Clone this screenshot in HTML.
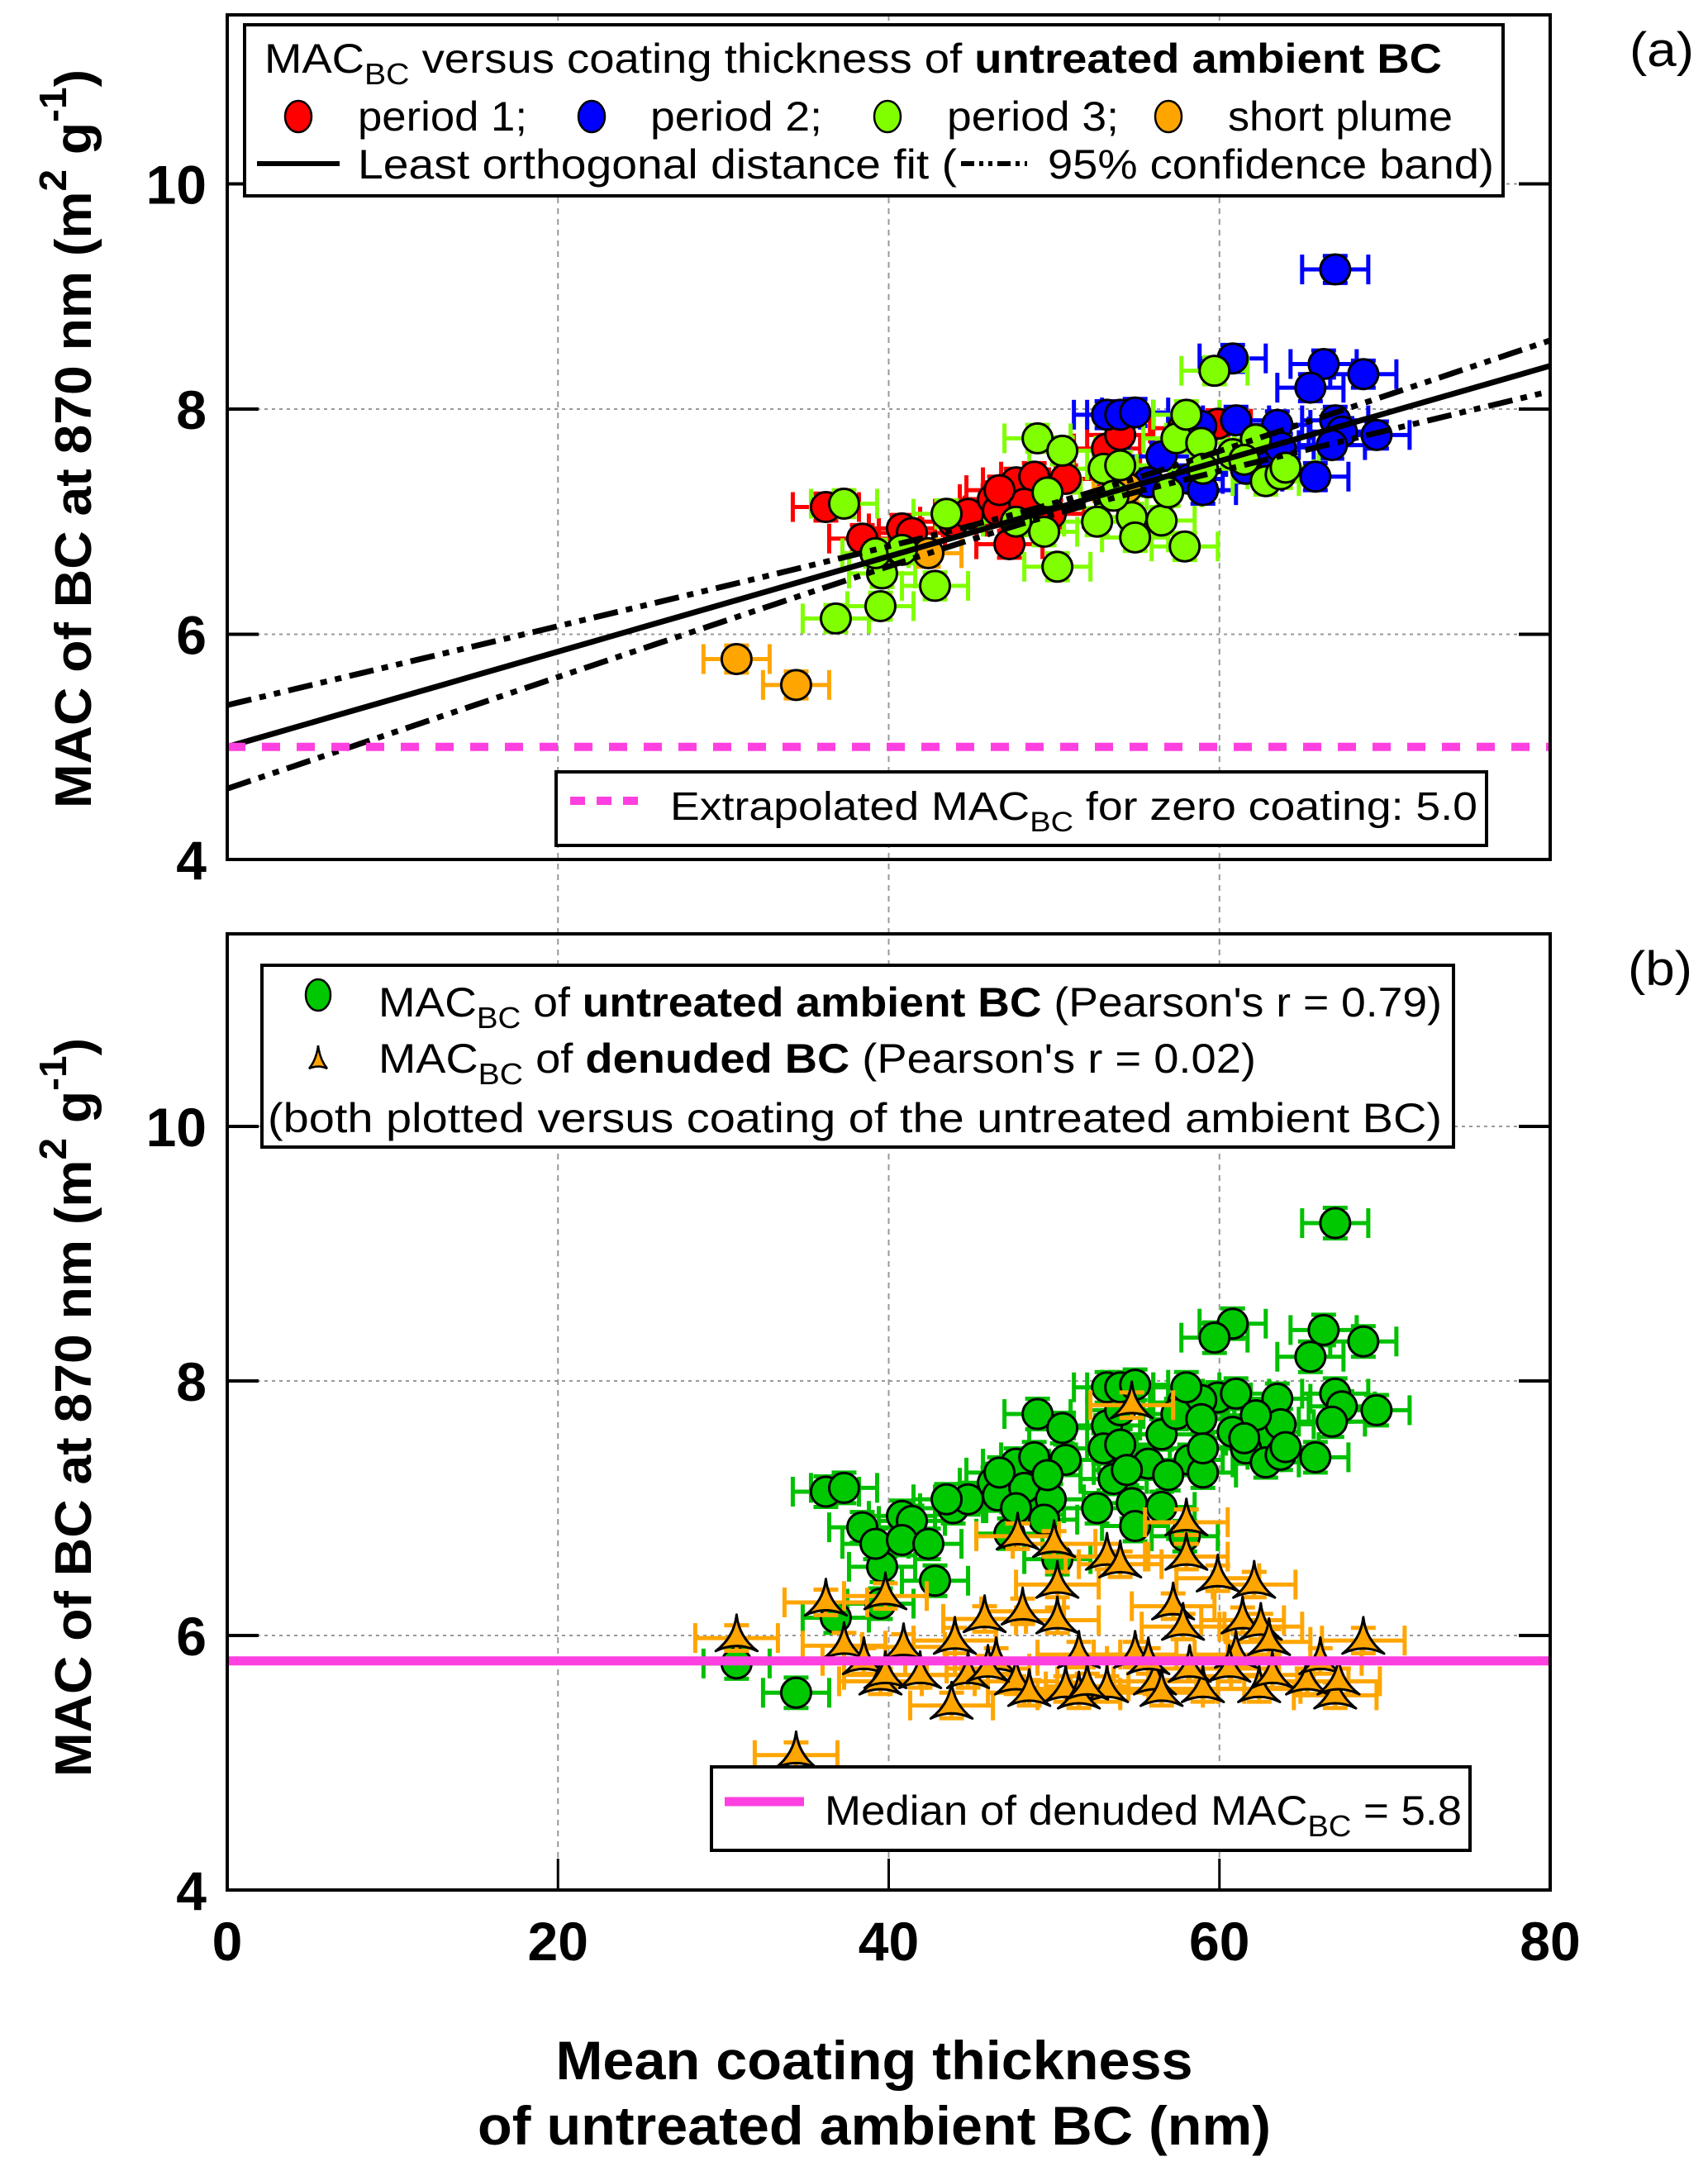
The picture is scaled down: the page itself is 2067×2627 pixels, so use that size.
<!DOCTYPE html>
<html><head><meta charset="utf-8"><style>
html,body{margin:0;padding:0;background:#fff;}
svg{display:block;}
text{font-family:"Liberation Sans",sans-serif;}
</style></head><body>
<svg id="chart" width="2067" height="2627" viewBox="0 0 2067 2627" xmlns="http://www.w3.org/2000/svg">
<g id="grid"></g>
<g id="marks"></g>
<g id="axes"></g>
<g id="legends"></g>
</svg>
<script>
// ---- data (coating thickness nm, MAC m2/g) ----
const xTicks = [0, 20, 40, 60, 80];
const yTicks = [4, 6, 8, 10];
const p1X = [36.2,38.4,40.8,41.4,43.9,44.8,46.3,46.6,47.3,47.7,48.8,48.2,50.7,53.2,54.0,57.8,59.9,46.7,49.8];
const p1Y = [7.13,6.85,6.94,6.90,7.00,7.07,7.20,7.10,6.80,7.35,7.40,7.16,7.38,7.65,7.77,7.83,7.87,7.28,7.07];
const p2X = [67.0,60.8,66.3,68.7,65.5,53.2,54.0,54.9,58.9,61.0,63.5,67.0,67.4,69.5,66.8,65.8,56.5,58.2,62.4,63.7,55.7,59.0,61.6];
const p2Y = [9.24,8.45,8.40,8.31,8.19,7.95,7.95,7.97,7.85,7.90,7.86,7.90,7.80,7.77,7.68,7.40,7.58,7.38,7.53,7.66,7.35,7.28,7.47];
const p3X = [37.3,36.8,39.5,39.6,39.2,40.8,42.8,43.5,49.0,50.5,50.2,49.4,49.6,47.7,52.6,53.0,54.0,54.7,54.9,56.5,57.9,57.4,58.0,59.7,58.9,59.0,60.8,62.2,61.5,62.8,63.7,64.0,56.9,53.6];
const p3Y = [7.16,6.14,6.25,6.54,6.72,6.75,6.43,7.07,7.74,7.63,6.60,6.91,7.26,7.00,7.00,7.47,7.50,7.04,6.86,7.01,6.78,7.74,7.95,8.34,7.70,7.47,7.60,7.73,7.55,7.36,7.42,7.48,7.26,7.23];
const plumeX = [30.8,34.4,42.4,54.4];
const plumeY = [5.78,5.55,6.72,7.30];
const denX = [30.8,34.4,36.2,37.3,39.8,38.5,39.5,40.9,41.9,43.8,44.8,45.8,46.5,47.7,48.1,47.8,50.0,50.2,50.7,51.5,50.2,53.2,54.0,54.7,53.2,54.9,56.1,57.2,57.8,58.0,58.0,59.9,59.0,58.2,61.0,61.4,62.1,62.5,62.4,63.2,65.3,66.1,67.0,67.2,68.7,60.6,44.0,46.0,51.5,55.7,39.8,48.5,52.0,56.5,63.0];
const denY = [5.98,5.06,6.26,5.92,6.31,5.80,5.64,5.91,5.69,5.45,5.69,6.13,5.80,5.64,6.19,6.78,6.72,6.40,5.58,5.85,6.12,6.62,6.56,7.81,5.58,5.85,5.64,6.23,6.07,6.89,6.62,6.45,5.58,5.74,5.85,6.12,6.40,6.07,5.58,5.69,5.64,5.80,5.53,5.64,5.96,5.74,5.96,5.74,5.53,5.80,5.69,5.55,5.60,5.55,5.95];
const fitIntercept = 5.0, fitSlope = 0.0423;
const denMedian = 5.8;
const xErr = 2.0, yErr = 0.12, denXErr = 2.5;

// ---- layout ----
const X0 = 275, X1 = 1876;
const panelA = {top: 18, bottom: 1040, yMin: 4, yMax: 11.5};
const panelB = {top: 1130, bottom: 2287, yMin: 4, yMax: 11.5};
const NS = "http://www.w3.org/2000/svg";
function sx(v){ return X0 + (v - 0) / 80 * (X1 - X0); }
function syA(v){ return 1040 - (v - 4) / 2 * 272.5; }
function syB(v){ return 2287 - (v - 4) / 2 * 308; }
function mk(tag, attrs, parent){
  const e = document.createElementNS(NS, tag);
  for (const k in attrs) e.setAttribute(k, attrs[k]);
  parent.appendChild(e); return e;
}
const grid = document.getElementById('grid');
const marks = document.getElementById('marks');
const axes = document.getElementById('axes');
const legends = document.getElementById('legends');

// grid
[20,40,60].forEach(v => {
  const l = mk('line',{x1:sx(v),x2:sx(v),y1:18,y2:2287,stroke:'#999','stroke-width':2,'stroke-dasharray':'7,6'},grid);
  
  
});
[6,8,10].forEach(v => {
  const la = mk('line',{x1:X0,x2:X1,y1:syA(v),y2:syA(v),stroke:'#999','stroke-width':2,'stroke-dasharray':'4,5'},grid);
  
  
  const lb = mk('line',{x1:X0,x2:X1,y1:syB(v),y2:syB(v),stroke:'#999','stroke-width':2,'stroke-dasharray':'4,5'},grid);
  
  
});

function errBars(x, y, ex, ey, sy, color, parent){
  const g = mk('g',{stroke:color,'stroke-width':5,fill:'none'},parent);
  
  
  const xa = sx(x-ex), xb = sx(x+ex), yc = sy(y);
  mk('line',{x1:xa,x2:xb,y1:yc,y2:yc},g);
  mk('line',{x1:xa,x2:xa,y1:yc-18,y2:yc+18},g);
  mk('line',{x1:xb,x2:xb,y1:yc-18,y2:yc+18},g);
  if (ey > 0){
    const ya = sy(y-ey), yb = sy(y+ey), xc = sx(x);
    mk('line',{x1:xc,x2:xc,y1:ya,y2:yb},g);
    mk('line',{x1:xc-15,x2:xc+15,y1:ya,y2:ya},g);
    mk('line',{x1:xc-15,x2:xc+15,y1:yb,y2:yb},g);
  }
}
function circle(x, y, sy, color, parent){
  const c = mk('circle',{cx:sx(x),cy:sy(y),r:18,fill:color,stroke:'#000','stroke-width':3},parent);
  return c;
}
function star(cx, cy, s, parent){
  const a=[cx,cy-27*s], b=[cx-24*s,cy+15*s], c=[cx+24*s,cy+15*s];
  const k=0.22;
  const m=(p,q)=>[cx+((p[0]+q[0])/2-cx)*k, cy+((p[1]+q[1])/2-cy)*k];
  const mab=m(a,b), mbc=m(b,c), mca=m(c,a);
  const d=`M${a[0]},${a[1]} Q${mab[0]},${mab[1]} ${b[0]},${b[1]} Q${mbc[0]},${mbc[1]} ${c[0]},${c[1]} Q${mca[0]},${mca[1]} ${a[0]},${a[1]}Z`;
  return mk('path',{d:d,fill:'#ffa500',stroke:'#000','stroke-width':3,'stroke-linejoin':'round'},parent);
}

// ---- Panel A ----
const gA = mk('g',{},marks);


const seriesA = [[p1X,p1Y,'#ff0000','period-1'],[p2X,p2Y,'#0000ff','period-2'],[p3X,p3Y,'#80ff00','period-3'],[plumeX,plumeY,'#ffa500','short-plume']];
seriesA.forEach(s => s[0].forEach((x,i) => errBars(x, s[1][i], xErr, yErr, syA, s[2], gA)));
[seriesA[0],seriesA[1],seriesA[3],seriesA[2]].forEach(s => s[0].forEach((x,i) => {
  const c = circle(x, s[1][i], syA, s[2], gA);
  
  
}));
function fitY(x){ return fitIntercept + fitSlope * x; }
function band(x){ return Math.sqrt(0.0025 + 5.4e-5 * (x - 50) * (x - 50)); }
let fitPts='', upPts='', loPts='';
for (let x=0; x<=80; x+=1){
  fitPts += sx(x)+','+syA(fitY(x))+' ';
  upPts += sx(x)+','+syA(fitY(x)+band(x))+' ';
  loPts += sx(x)+','+syA(fitY(x)-band(x))+' ';
}
const fl = mk('polyline',{points:fitPts,fill:'none',stroke:'#000','stroke-width':7},gA);


const ub = mk('polyline',{points:upPts,fill:'none',stroke:'#000','stroke-width':7,'stroke-dasharray':'30,10,8,10,8,10'},gA);


const lb = mk('polyline',{points:loPts,fill:'none',stroke:'#000','stroke-width':7,'stroke-dasharray':'30,10,8,10,8,10'},gA);


const ex = mk('line',{x1:X0,x2:X1,y1:syA(fitIntercept),y2:syA(fitIntercept),stroke:'#ff40e0','stroke-width':10,'stroke-dasharray':'22,20'},gA);



// ---- Panel B ----
const gB = mk('g',{},marks);


const allX = [].concat(p1X,p2X,p3X,plumeX), allY = [].concat(p1Y,p2Y,p3Y,plumeY);
allX.forEach((x,i)=>errBars(x, allY[i], xErr, yErr, syB, '#00c000', gB));
allX.forEach((x,i)=>{
  const c = circle(x, allY[i], syB, '#00c800', gB);
  
  
});
denX.forEach((x,i)=>errBars(x, denY[i], denXErr, 0.1, syB, '#ffa500', gB));
denX.forEach((x,i)=>{
  const t = star(sx(x), syB(denY[i]), 1.05, gB);
  
  
});
const md = mk('line',{x1:X0,x2:X1,y1:syB(denMedian),y2:syB(denMedian),stroke:'#ff40e0','stroke-width':11},gB);



// ---- Axes ----
function frame(p, sy, name){
  const r = mk('rect',{x:X0,y:p.top,width:X1-X0,height:p.bottom-p.top,fill:'none',stroke:'#000','stroke-width':4},axes);
  
  
  yTicks.forEach(v=>{
    if (v===4) return;
    mk('line',{x1:X0,x2:X0+38,y1:sy(v),y2:sy(v),stroke:'#000','stroke-width':4},axes);
    mk('line',{x1:X1-38,x2:X1,y1:sy(v),y2:sy(v),stroke:'#000','stroke-width':4},axes);
  });
  yTicks.forEach(v=>{
    const t = mk('text',{x:250,y:sy(v)+24,'text-anchor':'end','font-size':66,'font-weight':'bold'},axes);
    t.textContent = v;
    
    
  });
}
frame(panelA, syA, 'panel-a-frame');
frame(panelB, syB, 'panel-b-frame');
xTicks.forEach(v=>{
  if (v>0 && v<80) mk('line',{x1:sx(v),x2:sx(v),y1:2249,y2:2287,stroke:'#000','stroke-width':3},axes);
  const t = mk('text',{x:sx(v),y:2372,'text-anchor':'middle','font-size':66,'font-weight':'bold'},axes);
  t.textContent = v;
  
  
});
</script>
<svg style="position:absolute;left:0;top:0" width="2067" height="2627" xmlns="http://www.w3.org/2000/svg">
<g font-family="Liberation Sans, sans-serif">
  <text transform="translate(110,978) rotate(-90)" font-size="62" font-weight="bold" textLength="894" lengthAdjust="spacingAndGlyphs">MAC of BC at 870 nm (m<tspan dy="-30" font-size="46">2</tspan><tspan dy="30"> g</tspan><tspan dy="-30" font-size="46">-1</tspan><tspan dy="30">)</tspan></text>
  <text transform="translate(110,2150) rotate(-90)" font-size="62" font-weight="bold" textLength="894" lengthAdjust="spacingAndGlyphs">MAC of BC at 870 nm (m<tspan dy="-30" font-size="46">2</tspan><tspan dy="30"> g</tspan><tspan dy="-30" font-size="46">-1</tspan><tspan dy="30">)</tspan></text>
  <text x="1058" y="2516" text-anchor="middle" font-size="66" font-weight="bold" textLength="771" lengthAdjust="spacingAndGlyphs">Mean coating thickness</text>
  <text x="1058" y="2595" text-anchor="middle" font-size="66" font-weight="bold" textLength="960" lengthAdjust="spacingAndGlyphs">of untreated ambient BC (nm)</text>
  <text x="1972" y="80" font-size="58" textLength="78" lengthAdjust="spacingAndGlyphs">(a)</text>
  <text x="1970" y="1192" font-size="58" textLength="78" lengthAdjust="spacingAndGlyphs">(b)</text>

  <g>
    <rect x="296" y="30" width="1523" height="207" fill="#fff" stroke="#000" stroke-width="4"/>
    <text x="320" y="88" font-size="50" textLength="1425" lengthAdjust="spacingAndGlyphs">MAC<tspan font-size="36" dy="14">BC</tspan><tspan dy="-14"> versus coating thickness of </tspan><tspan font-weight="bold">untreated ambient BC</tspan></text>
    <ellipse cx="361" cy="141" rx="16" ry="19" fill="#ff0000" stroke="#000" stroke-width="2.5"/>
    <text x="433" y="158" font-size="50" textLength="205" lengthAdjust="spacingAndGlyphs">period 1;</text>
    <ellipse cx="716" cy="141" rx="16" ry="19" fill="#0000ff" stroke="#000" stroke-width="2.5"/>
    <text x="787" y="158" font-size="50" textLength="208" lengthAdjust="spacingAndGlyphs">period 2;</text>
    <ellipse cx="1074" cy="141" rx="16" ry="19" fill="#80ff00" stroke="#000" stroke-width="2.5"/>
    <text x="1146" y="158" font-size="50" textLength="208" lengthAdjust="spacingAndGlyphs">period 3;</text>
    <ellipse cx="1414" cy="141" rx="16" ry="19" fill="#ffa500" stroke="#000" stroke-width="2.5"/>
    <text x="1486" y="158" font-size="50" textLength="272" lengthAdjust="spacingAndGlyphs">short plume</text>
    <line x1="311" x2="411" y1="198" y2="198" stroke="#000" stroke-width="6"/>
    <text x="433" y="216" font-size="50" textLength="725" lengthAdjust="spacingAndGlyphs">Least orthogonal distance fit (</text>
    <line x1="1163" x2="1243" y1="198" y2="198" stroke="#000" stroke-width="6" stroke-dasharray="16,6,5,6,5,6"/>
    <text x="1268" y="216" font-size="50" textLength="540" lengthAdjust="spacingAndGlyphs">95% confidence band)</text>
  </g>
  <g>
    <rect x="673" y="934" width="1126" height="89" fill="#fff" stroke="#000" stroke-width="4"/>
    <line x1="690" x2="785" y1="969" y2="969" stroke="#ff40e0" stroke-width="10" stroke-dasharray="18,14"/>
    <text x="811" y="992" font-size="48" textLength="977" lengthAdjust="spacingAndGlyphs">Extrapolated MAC<tspan font-size="34" dy="14">BC</tspan><tspan dy="-14"> for zero coating:  5.0</tspan></text>
  </g>
  <g>
    <rect x="317" y="1168" width="1442" height="220" fill="#fff" stroke="#000" stroke-width="4"/>
    <ellipse cx="385" cy="1204" rx="15" ry="19" fill="#00c800" stroke="#000" stroke-width="2.5"/>
    <text x="458" y="1230" font-size="50" textLength="1287" lengthAdjust="spacingAndGlyphs">MAC<tspan font-size="36" dy="14">BC</tspan><tspan dy="-14"> of </tspan><tspan font-weight="bold">untreated ambient BC</tspan><tspan> (Pearson's r = 0.79)</tspan></text>
    <path d="M385,1265 Q387,1282 396,1293 Q385,1288 374,1293 Q383,1282 385,1265Z" fill="#ffa500" stroke="#000" stroke-width="2.5"/>
    <text x="458" y="1298" font-size="50" textLength="1062" lengthAdjust="spacingAndGlyphs">MAC<tspan font-size="36" dy="14">BC</tspan><tspan dy="-14"> of </tspan><tspan font-weight="bold">denuded BC</tspan><tspan>  (Pearson's r = 0.02)</tspan></text>
    <text x="324" y="1370" font-size="50" textLength="1421" lengthAdjust="spacingAndGlyphs">(both plotted versus coating of the untreated ambient BC)</text>
  </g>
  <g>
    <rect x="861" y="2138" width="918" height="101" fill="#fff" stroke="#000" stroke-width="4"/>
    <line x1="877" x2="973" y1="2180" y2="2180" stroke="#ff40e0" stroke-width="11"/>
    <text x="998" y="2208" font-size="50" textLength="771" lengthAdjust="spacingAndGlyphs">Median of denuded MAC<tspan font-size="36" dy="14">BC</tspan><tspan dy="-14"> = 5.8</tspan></text>
  </g>
</g>
</svg>
</body></html>
